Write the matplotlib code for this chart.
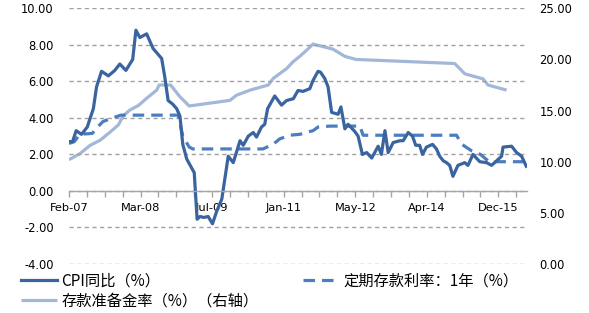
import numpy as np
import matplotlib
matplotlib.use("Agg")
import matplotlib.pyplot as plt
from matplotlib.ticker import FormatStrFormatter, MultipleLocator

plt.rcParams['font.family'] = ['DejaVu Sans', 'Noto Sans CJK SC']

# x positions are category indices of the original (irregular) date axis
tick_labels = ['Feb-07', 'Mar-08', 'Jul-09', 'Jan-11', 'May-12', 'Apr-14', 'Dec-15']
tick_pos = [0, 20, 40, 60, 80, 100, 120]

# CPI YoY (%), left axis
cpi_pos = [0, 1, 2, 3.5, 5.1, 6.8, 7.7, 9.1, 11.0, 12.8, 14.2, 15.9, 17.8, 18.7, 19.8,
           21.7, 23.5, 25.9, 26.8, 27.7, 29.0, 30.1, 31.0, 31.8, 32.9, 35.0, 35.8, 36.6,
           37.7, 38.9, 40.1, 41.3, 42.7, 44.5, 45.9, 47.8, 48.7, 50.1, 51.5, 52.4, 53.8,
           54.7, 55.5, 57.5, 59.4, 60.8, 62.7, 64.0, 65.4, 67.3, 68.2, 69.6, 70.3, 71.5,
           72.4, 73.4, 75.2, 76.0, 77.1, 78.0, 79.9, 80.8, 82.0, 83.2, 84.6, 86.4, 87.3,
           88.3, 89.2, 90.6, 92.5, 93.4, 94.8, 96.0, 96.9, 98.0, 98.8, 99.9, 101.6, 102.7,
           103.6, 104.6, 105.5, 106.4, 107.3, 108.7, 110.6, 111.5, 112.9, 114.8, 116.7,
           118.1, 119.5, 120.9, 121.3, 123.7, 125.1, 126.5, 127.8]
cpi = [2.7, 2.7, 3.3, 3.1, 3.5, 4.5, 5.7, 6.55, 6.3, 6.6, 6.95, 6.6, 7.2, 8.8, 8.4,
       8.6, 7.8, 7.25, 6.2, 4.95, 4.75, 4.5, 4.1, 2.55, 1.75, 1.0, -1.55, -1.4,
       -1.45, -1.4, -1.8, -1.1, -0.45, 1.9, 1.55, 2.75, 2.5, 3.0, 3.2, 2.95, 3.5,
       3.65, 4.5, 5.2, 4.7, 4.95, 5.05, 5.5, 5.45, 5.6, 6.05, 6.55, 6.5, 6.15,
       5.7, 4.3, 4.2, 4.6, 3.4, 3.65, 3.25, 3.0, 2.0, 2.1, 1.8, 2.45, 2.0,
       3.3, 2.1, 2.65, 2.75, 2.75, 3.2, 3.0, 2.5, 2.5, 2.0, 2.4, 2.55, 2.3,
       1.9, 1.65, 1.55, 1.4, 0.8, 1.4, 1.55, 1.4, 2.0, 1.6, 1.55,
       1.4, 1.65, 1.9, 2.4, 2.45, 2.1, 1.9, 1.35]

# 1-year time deposit rate (%), left axis
dep_pos = [0, 1.5, 3, 6.5, 8, 9.5, 11.5, 14.5, 30.5, 31.8, 33.6, 34.6, 54.2, 57.0,
           58.9, 61.7, 64.5, 68.2, 69.6, 72.9, 81.3, 82.2, 108.3, 109.8, 112.5, 115.0,
           117.4, 127.8]
dep_rate = [2.6, 2.7, 3.1, 3.15, 3.5, 3.8, 3.95, 4.15, 4.15, 3.0, 2.4, 2.3, 2.3, 2.55,
            2.85, 3.05, 3.1, 3.3, 3.5, 3.55, 3.55, 3.05, 3.05, 2.55, 2.2, 2.0,
            1.6, 1.6]

# reserve requirement ratio (%), right axis
rrr_pos = [0, 3.1, 5.9, 8.7, 11.5, 13.8, 15.2, 17.0, 19.4, 21.7, 24.5, 25.2, 28.4, 31.0,
           33.6, 35.7, 45.0, 46.8, 50.6, 55.7, 57.1, 60.8, 62.7, 64.5, 66.4, 68.2, 73.8,
           77.1, 80.2, 107.8, 110.6, 115.7, 117.1, 122.3]
rrr = [10.2, 10.8, 11.6, 12.1, 12.9, 13.6, 14.5, 15.05, 15.5, 16.2, 17.0, 17.5, 17.5, 16.35,
       15.45, 15.55, 16.0, 16.5, 17.0, 17.5, 18.15, 19.1, 19.8, 20.3, 20.9, 21.5, 21.0,
       20.3, 20.0, 19.6, 18.6, 18.1, 17.5, 17.0]

c_cpi = '#3A64A0'
c_dep = '#4A7EC0'
c_rrr = '#A3B7D8'

fig = plt.figure(figsize=(5.89, 3.13), dpi=100)
ax = fig.add_axes([69 / 589, 1 - 264 / 313, (527 - 69) / 589, (264 - 8.3) / 313])
ax2 = ax.twinx()
ax.set_zorder(ax2.get_zorder() + 1)
ax.patch.set_visible(False)

l_rrr, = ax2.plot(rrr_pos, rrr, color=c_rrr, lw=2.3, solid_capstyle='butt',
                  label='存款准备金率（%）（右轴）')
l_dep, = ax.plot(dep_pos, dep_rate, color=c_dep, lw=2.3, dashes=(3.6, 2.2),
                 dash_capstyle='butt', label='定期存款利率：1年（%）')
l_cpi, = ax.plot(cpi_pos, cpi, color=c_cpi, lw=2.3, solid_joinstyle='round',
                 label='CPI同比（%）')

ax.set_xlim(0, 128)
ax.set_ylim(-4, 10)
ax2.set_ylim(0, 25)

ax.set_yticks(np.arange(-4, 10.1, 2))
ax2.set_yticks(np.arange(0, 25.1, 5))
ax.yaxis.set_major_formatter(FormatStrFormatter('%.2f'))
ax2.yaxis.set_major_formatter(FormatStrFormatter('%.2f'))
ax.tick_params(axis='y', length=0, pad=11, labelsize=8.3)
ax2.tick_params(axis='y', length=0, pad=9, labelsize=8.3)

for a in (ax, ax2):
    for s in ('left', 'right', 'top'):
        a.spines[s].set_visible(False)
ax2.spines['bottom'].set_visible(False)

ax.spines['bottom'].set_position(('data', 0))
ax.spines['bottom'].set_color('#A6A6A6')
ax.spines['bottom'].set_linewidth(1.0)
ax.set_xticks(tick_pos)
ax.set_xticklabels(tick_labels)
ax.xaxis.set_minor_locator(MultipleLocator(5))
ax.tick_params(axis='x', which='both', direction='out', length=4, width=1,
               color='#A6A6A6', labelsize=8.2, pad=5)

ax.grid(axis='y', color='#A0A0A0', lw=1, dashes=(3, 2.5))
ax.set_axisbelow(True)

leg = fig.legend(handles=[l_cpi, l_rrr, l_dep], ncol=2, frameon=False,
                 loc='upper left', bbox_to_anchor=(10 / 589, 1 - 262 / 313),
                 prop={'family': ['Noto Sans CJK SC', 'DejaVu Sans'], 'size': 11},
                 handlelength=2.4, handletextpad=0.25, columnspacing=2.9,
                 labelspacing=0.2, borderpad=0.2)

fig.savefig('out.png', dpi=100)
